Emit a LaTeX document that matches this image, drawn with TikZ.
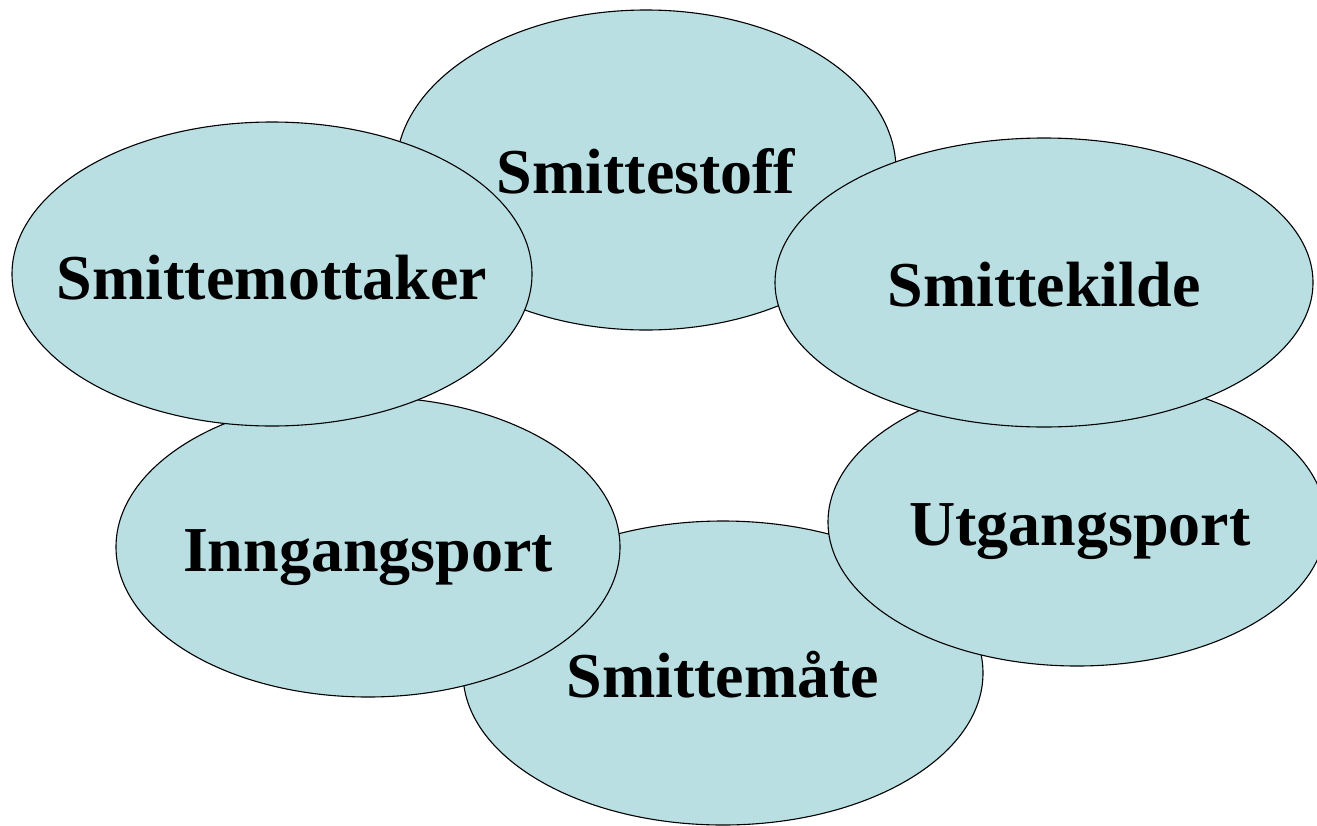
\documentclass[tikz,border=0pt]{standalone}
\usepackage{fontspec}
\setmainfont{Liberation Serif}
\usetikzlibrary{shapes.geometric}
\definecolor{cellfill}{HTML}{B9DFE3}
\tikzset{
  cell/.style={ellipse, draw=black, line width=1.1pt, fill=cellfill, inner sep=0pt},
  lbl/.style={anchor=base, inner sep=0pt, font=\fontsize{64}{72}\selectfont\bfseries}
}
\begin{document}
\begin{tikzpicture}[x=1pt,y=-1pt]
\useasboundingbox (0,0) rectangle (1317,825);
\clip (0,0) rectangle (1317,825);
\node[cell, minimum width=500, minimum height=320] (stoff) at (646,170) {};
\node[cell, minimum width=520, minimum height=304] (maate) at (723,673) {};
\node[cell, minimum width=498, minimum height=288] (utgang) at (1077,522) {};
\node[cell, minimum width=538, minimum height=289] (kilde) at (1044,282.5) {};
\node[cell, minimum width=504, minimum height=300] (inngang) at (368,547) {};
\node[cell, minimum width=520, minimum height=304] (mottaker) at (272,274) {};
\node[lbl] (tstoff) at (646,193) {Smittestoff};
\node[lbl] (tmottaker) at (272,299) {Smittemottaker};
\node[lbl] (tkilde) at (1044,306) {Smittekilde};
\node[lbl] (tutgang) at (1080,545) {Utgangsport};
\node[lbl] (tinngang) at (368,571) {Inngangsport};
\node[lbl] (tmaate) at (723,697) {Smittemåte};
\end{tikzpicture}
\end{document}
